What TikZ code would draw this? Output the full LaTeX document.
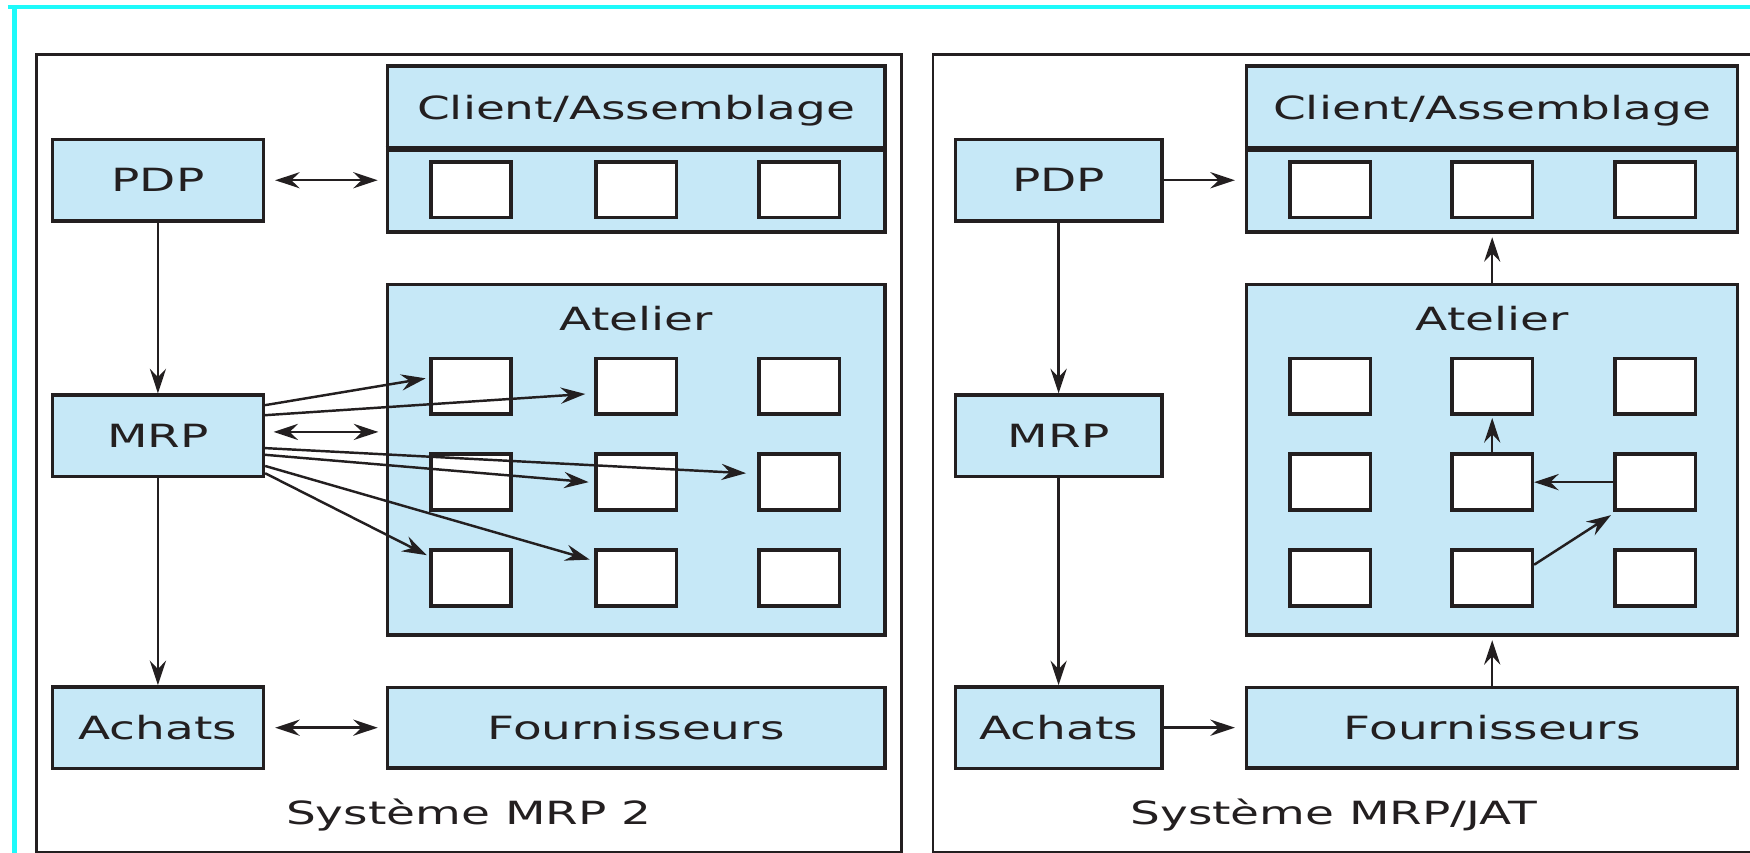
\documentclass[tikz,border=0pt]{standalone}
\usepackage{fontspec}
\setmainfont{DejaVu Sans}[FakeStretch=1.47]
\usetikzlibrary{arrows.meta,calc}
\definecolor{paleblue}{RGB}{198,232,247}
\definecolor{ink}{RGB}{35,31,32}
\definecolor{framecyan}{RGB}{30,250,250}

\begin{document}
\begin{tikzpicture}[x=0.02cm,y=-0.02cm,
  every node/.style={font=\fontsize{16.3}{19}\selectfont, text=ink},
  >={Stealth[length=0.44cm,width=0.29cm,inset=0.15cm]},
  panel/.style={draw=ink, line width=1.4pt},
  unit/.style={draw=ink, fill=paleblue, line width=1.8pt, inner sep=0pt},
  side/.style={unit, minimum height=1.46cm},
  cell/.style={draw=ink, fill=white, line width=1.8pt, inner sep=0pt,
               minimum width=1.44cm, minimum height=1cm},
  link/.style={draw=ink, line width=1.25pt},
  caption/.style={anchor=base, inner sep=0pt}
]
\useasboundingbox (0,0) rectangle (1568,764);
\clip (0,0) rectangle (1568,764);

% outer frame
\draw[framecyan, line width=2pt] (7,6.5) -- (1600,6.5);
\draw[framecyan, line width=2.2pt] (13,6.5) -- (13,800);

% the two panels
\draw[panel] (33,49) rectangle (808,764);
\draw[panel] (836,49) rectangle (1600,764);

% ---------- left panel: MRP 2 ----------
\node[side, minimum width=3.78cm] (pdpL) at (141.5,161.5) {PDP};
\node[side, minimum width=3.78cm] (mrpL) at (141.5,390.5) {MRP};
\node[side, minimum width=3.78cm] (achL) at (141.5,652) {Achats};

\node[unit, minimum width=8.92cm, minimum height=2.98cm] (cliL) at (570,133.5) {};
\draw[ink, line width=3.4pt] (cliL.west) -- (cliL.east);
\node[caption] (cliLt) at (570,107) {Client/Assemblage};

\node[unit, minimum width=8.92cm, minimum height=6.28cm] (atL) at (570,412) {};
\node (atLt) at (570,285) {Atelier};

\node[unit, minimum width=8.92cm, minimum height=1.44cm] (fouL) at (570,652) {Fournisseurs};

\foreach \c/\x in {1/422,2/570,3/716} {
  \node[cell] (cL\c) at (\x,170) {};
  \foreach \r/\y in {1/346,2/432,3/518}
    \node[cell] (aL\c\r) at (\x,\y) {};
}

\node[caption] (capL) at (420,739) {Système MRP 2};

% links
\draw[link,<->, shorten <=0.18cm, shorten >=0.14cm] (pdpL.east) -- (pdpL.east -| cliL.west);
\draw[link,->] (pdpL.south) -- (mrpL.north);
\draw[link,->] (mrpL.south) -- (achL.north);
\draw[link,<->, shorten <=0.18cm, shorten >=0.14cm] (achL.east) -- (achL.east -| fouL.west);
\draw[link,<->, shorten <=0.15cm, shorten >=0.13cm]
  ($(mrpL.east)+(0,-3.5)$) -- ($(mrpL.east -| atL.west)+(0,-3.5)$);

% MRP orders sent to each work centre
\draw[link,->] ($(mrpL.east)+(0,-27.5)$) -- ($(aL11.west)+(-3,-7)$);
\draw[link,->] ($(mrpL.east)+(0,-18.5)$) -- ($(aL21.west)+(-8,7)$);
\draw[link,->] ($(mrpL.east)+(0,11)$) -- ($(aL32.west)+(-10,-8)$);
\draw[link,->] ($(mrpL.east)+(0,17)$) -- ($(aL22.west)+(-5,0)$);
\draw[link,->] ($(mrpL.east)+(0,27)$) -- ($(aL23.north west)+(-4,10)$);
\draw[link,->] ($(mrpL.east)+(0,33.5)$) -- ($(aL13.north west)+(-2,6)$);

% ---------- right panel: MRP/JAT ----------
\node[side, minimum width=3.70cm] (pdpR) at (948.5,161.5) {PDP};
\node[side, minimum width=3.70cm] (mrpR) at (948.5,390.5) {MRP};
\node[side, minimum width=3.70cm] (achR) at (948.5,652) {Achats};

\node[unit, minimum width=8.8cm, minimum height=2.98cm] (cliR) at (1337,133.5) {};
\draw[ink, line width=3.4pt] (cliR.west) -- (cliR.east);
\node[caption] (cliRt) at (1337,107) {Client/Assemblage};

\node[unit, minimum width=8.8cm, minimum height=6.28cm] (atR) at (1337,412) {};
\node (atRt) at (1337,285) {Atelier};

\node[unit, minimum width=8.8cm, minimum height=1.44cm] (fouR) at (1337,652) {Fournisseurs};

\foreach \c/\x in {1/1192,2/1337,3/1483} {
  \node[cell] (cR\c) at (\x,170) {};
  \foreach \r/\y in {1/346,2/432,3/518}
    \node[cell] (aR\c\r) at (\x,\y) {};
}

\node[caption] (capR) at (1195,739) {Système MRP/JAT};

% links (pull flow)
\draw[link,->, shorten >=0.18cm] (pdpR.east) -- (pdpR.east -| cliR.west);
\draw[link,->] (pdpR.south) -- (mrpR.north);
\draw[link,->] (mrpR.south) -- (achR.north);
\draw[link,->, shorten >=0.18cm] (achR.east) -- (achR.east -| fouR.west);
\draw[link,->, shorten >=0.06cm] (atR.north) -- (cliR.south);
\draw[link,->, shorten >=0.06cm] (fouR.north) -- (atR.south);
\draw[link,->, shorten >=0.04cm] (aR22.north) -- (aR21.south);
\draw[link,->] (aR32.west) -- (aR22.east);
\draw[link,->] ($(aR23.east)+(0,-12)$) -- ($(aR32.south west)+(-2,3)$);
\end{tikzpicture}
\end{document}
